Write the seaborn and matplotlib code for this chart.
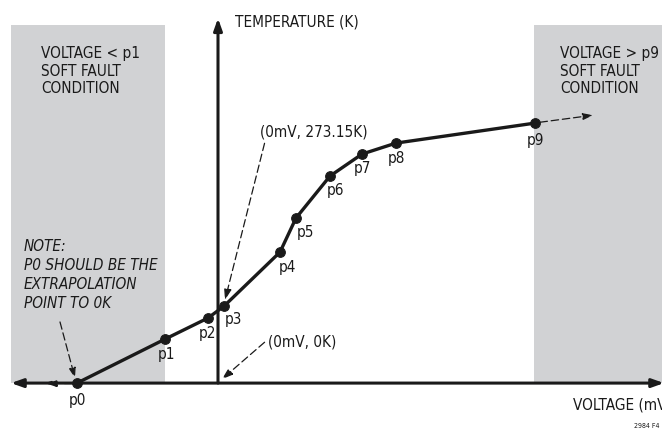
import matplotlib
matplotlib.use("Agg")
import matplotlib.pyplot as plt
import seaborn as sns
import pandas as pd

sns.set_style("white")
plt.rcParams["font.family"] = ["DejaVu Sans"]
plt.rcParams["font.stretch"] = "condensed"

# Calibration points (schematic values, mV vs K)
labels = ["p0", "p1", "p2", "p3", "p4", "p5", "p6", "p7", "p8", "p9"]
voltage = [-141, -53, -10, 6, 62, 78, 112, 144, 178, 317]
temperature = [0, 156, 231, 273.15, 465, 586, 735, 813, 852, 923]

# label offsets (pixels) relative to each point
label_dx = [0, 2, 0, 9, 7, 9, 6, 0, 0, 0]
label_dy = [-17, -15, -15, -13, -15, -14, -14, -14, -15, -17]

# fault regions
low_fault = (-207, -53)
high_fault = (316, 450)
fault_top = 1271

df = pd.DataFrame({"voltage": voltage, "temperature": temperature, "label": labels})

fig = plt.figure(figsize=(6.62, 4.29), dpi=100)
ax = fig.add_axes([0, 0, 1, 1])

gray = "#d1d2d4"
ink = "#1a1a1a"
ax.fill_between(low_fault, 0, fault_top, color=gray, lw=0, zorder=0)
ax.fill_between(high_fault, 0, fault_top, color=gray, lw=0, zorder=0)

# axes arrows
ax.annotate("", xy=(-207, 0), xytext=(446, 0),
            arrowprops=dict(arrowstyle="<|-|>,head_length=0.7,head_width=0.25", lw=2.2, color=ink,
                            shrinkA=0, shrinkB=0), zorder=2)
ax.annotate("", xy=(0, 1295), xytext=(0, 0),
            arrowprops=dict(arrowstyle="-|>,head_length=0.7,head_width=0.25", lw=2.2, color=ink,
                            shrinkA=0, shrinkB=0), zorder=2)

# curve
sns.lineplot(data=df, x="voltage", y="temperature", color=ink, lw=2.4,
             marker="o", markersize=7, markeredgecolor=ink, sort=False, ax=ax, zorder=4)
ax.set_xlim(-218, 444)
ax.set_ylim(-163, 1360)
ax.axis("off")

fs = 11
for x, y, t, dx, dy in zip(voltage, temperature, labels, label_dx, label_dy):
    ax.annotate(t, (x, y), xytext=(dx, dy), textcoords="offset pixels",
                ha="center", va="center", fontsize=fs, color=ink)

dash = dict(arrowstyle="-|>,head_length=0.6,head_width=0.2", lw=0.9, ls=(0, (6, 3)),
            color=ink, shrinkA=0, shrinkB=0)

# extrapolation arrows
ax.annotate("", xy=(375, 951), xytext=(322, 926), arrowprops=dash, zorder=3)
ax.annotate("", xy=(-173, 0), xytext=(-141, 0),
            arrowprops=dict(dash, lw=1.5), zorder=3)

# callouts
ax.annotate("(0mV, 273.15K)", xy=(7, 295), xytext=(42, 863),
            fontsize=fs, ha="left", va="bottom", color=ink,
            arrowprops=dict(dash, relpos=(0.05, 0)))
ax.annotate("(0mV, 0K)", xy=(4, 14), xytext=(50, 145),
            fontsize=fs, ha="left", va="center", color=ink,
            arrowprops=dict(dash, relpos=(-0.05, 0.5)))
ax.annotate("", xy=(-143, 18), xytext=(-158, 217), arrowprops=dash)

ax.text(-177, 1197, "VOLTAGE < p1\nSOFT FAULT\nCONDITION", fontsize=fs, va="top",
        ha="left", linespacing=1.22, color=ink)
ax.text(342, 1197, "VOLTAGE > p9\nSOFT FAULT\nCONDITION", fontsize=fs, va="top",
        ha="left", linespacing=1.22, color=ink)
ax.text(-194, 510, "NOTE:\nP0 SHOULD BE THE\nEXTRAPOLATION\nPOINT TO 0K", fontsize=fs,
        va="top", ha="left", style="italic", linespacing=1.32, color=ink)

ax.text(17, 1282, "TEMPERATURE (K)", fontsize=fs, ha="left", va="center", color=ink)
ax.text(355, -78, "VOLTAGE (mV)", fontsize=fs, ha="left", va="center", color=ink)
ax.text(416, -152, "2984 F4", fontsize=5, ha="left", va="center", color=ink)

plt.savefig("out.png", dpi=100)
